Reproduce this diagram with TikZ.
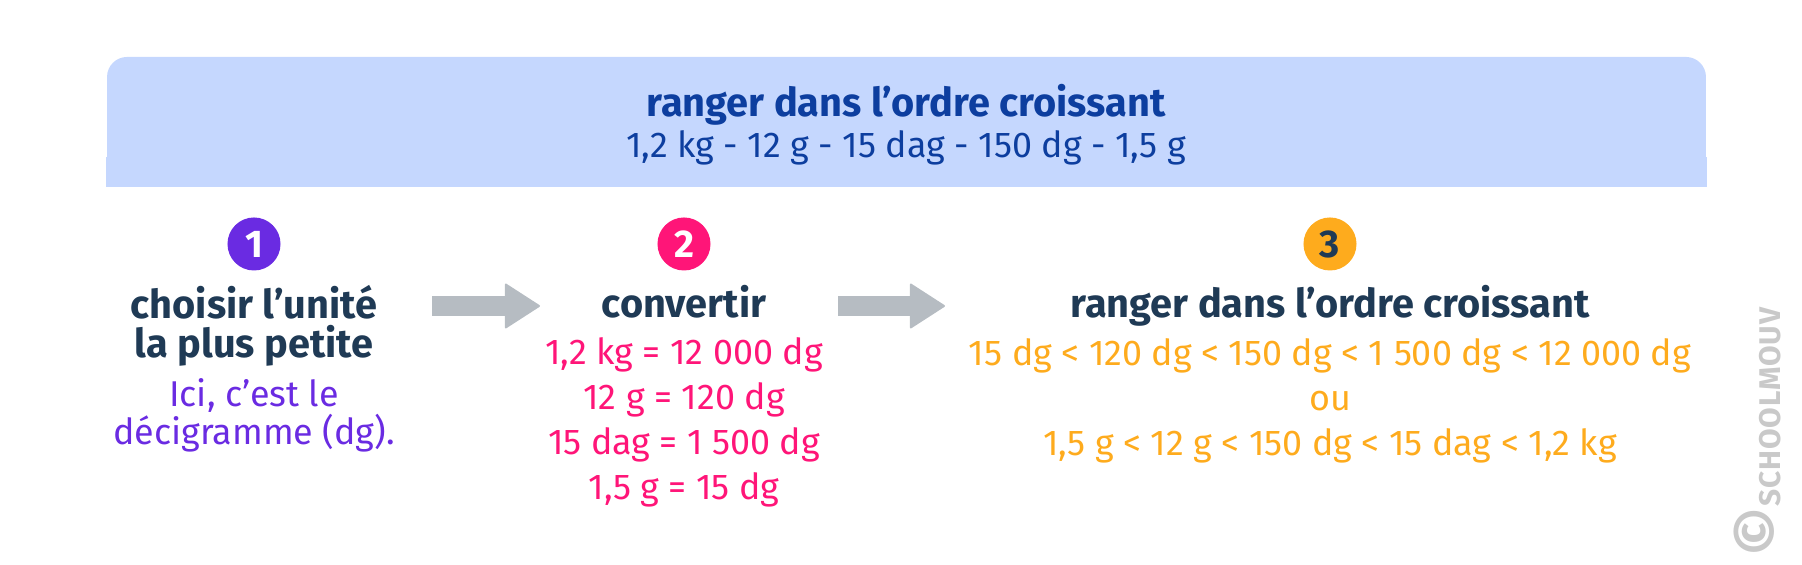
\documentclass[tikz,border=0pt]{standalone}
\usepackage{fontspec}
\setmainfont{Fira Sans}
\usetikzlibrary{arrows.meta}
\definecolor{bannerfill}{HTML}{C5D7FE}
\definecolor{bannerink}{HTML}{0D3E9F}
\definecolor{navy}{HTML}{1F3A55}
\definecolor{stepviolet}{HTML}{6A2BE2}
\definecolor{steppink}{HTML}{FF1578}
\definecolor{steporange}{HTML}{FEAB1D}
\definecolor{arrowgray}{HTML}{B6BCC2}
\definecolor{markgray}{HTML}{C9C9C9}
\tikzset{
  numdisc/.style={circle, inner sep=0pt, minimum size=0.53cm,
    font=\fontsize{11}{12}\selectfont\bfseries, text=white},
  heading/.style={anchor=base, align=center, text=navy,
    font=\fontsize{11.3}{11.1}\selectfont\bfseries},
  detail/.style={anchor=base, align=center, font=\fontsize{10.2}{12.8}\selectfont},
  bigarrow/.style={arrowgray, line width=0.2cm,
    -{Triangle[width=0.46cm, length=0.36cm, round, line width=0.02cm]}},
}

\begin{document}
\begin{tikzpicture}[x=0.01cm, y=-0.01cm]
  \useasboundingbox (0,0) rectangle (1802,565);
  % bandeau du haut
  \node[fill=bannerfill, rounded corners=0.2cm, minimum width=15.98cm,
    minimum height=1.29cm] (banner) at (906.5,121.5) {};
  \fill[bannerfill] (banner.south west) rectangle ([yshift=0.3cm]banner.south east);
  \node[detail, text=bannerink, font=\fontsize{10.2}{11.7}\selectfont] (task) at (906,158)
    {{\fontsize{11.3}{11.7}\selectfont\bfseries ranger dans l’ordre croissant}\\1,2 kg - 12 g - 15 dag - 150 dg - 1,5 g};

  \node[numdisc, fill=stepviolet] (n1) at (254,244) {1};
  \node[numdisc, fill=steppink] (n2) at (684,244) {2};
  \node[numdisc, fill=steporange, text=navy] (n3) at (1330,244) {3};

  \node[heading] (t1) at (254,358) {choisir l’unité\\la plus petite};
  \node[heading] (t2) at (684,318) {convertir};
  \node[heading] (t3) at (1330,318) {ranger dans l’ordre croissant};

  \node[detail, text=stepviolet, font=\fontsize{10.2}{11}\selectfont] (d1) at (254,445)
    {Ici, c’est le\\décigramme (dg).};
  \node[detail, text=steppink] (d2) at (684,500)
    {1,2 kg = 12 000 dg\\12 g = 120 dg\\15 dag = 1 500 dg\\1,5 g = 15 dg};
  \node[detail, text=steporange] (d3) at (1330,456)
    {15 dg < 120 dg < 150 dg < 1 500 dg < 12 000 dg\\ou\\1,5 g < 12 g < 150 dg < 15 dag < 1,2 kg};

  \coordinate (a1) at (432,306);
  \coordinate (b1) at (540,306);
  \coordinate (a2) at (838,306);
  \coordinate (b2) at (945,306);
  \draw[bigarrow] (a1) -- (b1);
  \draw[bigarrow] (a2) -- (b2);

  \node[rotate=90, text=markgray, font=\fontsize{8.5}{8.5}\selectfont\bfseries] (mark)
    at (1757,432) {\LARGE\textcopyright\normalsize\fontsize{8.5}{8.5}\selectfont\addfontfeature{LetterSpace=3}SCHOOLMOUV};
\end{tikzpicture}
\end{document}
